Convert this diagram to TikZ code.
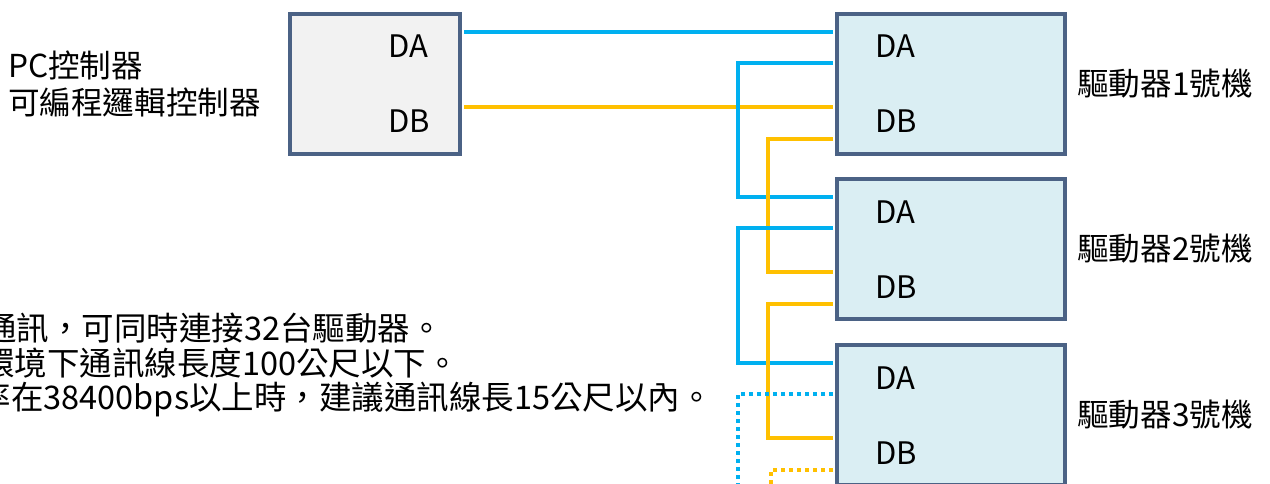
\documentclass[tikz,border=0pt]{standalone}
\usepackage{fontspec}
\setmainfont{Noto Sans CJK TC}
\definecolor{lineblue}{HTML}{00B0F0}
\definecolor{lineyellow}{HTML}{FFC000}
\definecolor{boxborder}{HTML}{4B6285}
\definecolor{drivefill}{HTML}{DAEEF3}
\definecolor{pcfill}{HTML}{F2F2F2}
\begin{document}
\begin{tikzpicture}[x=1pt,y=-1pt,
  box/.style={draw=boxborder, line width=4pt, inner sep=0pt, minimum width=170pt, minimum height=140pt},
  drivebox/.style={box, fill=drivefill, minimum width=228pt},
  pcbox/.style={box, fill=pcfill},
  port/.style={font=\fontsize{31}{31}\selectfont, anchor=base west, inner sep=0pt},
  lbl/.style={font=\fontsize{31.6}{31.6}\selectfont, inner sep=0pt},
  note/.style={font=\fontsize{32.5}{32.5}\selectfont, inner sep=0pt, anchor=base east},
  wa/.style={draw=lineblue, line width=3.5pt},
  wb/.style={draw=lineyellow, line width=3.5pt},
  dotw/.style={dash pattern=on 3.8pt off 4.2pt}]
\useasboundingbox (0,0) rectangle (1270,484);
\clip (0,0) rectangle (1270,484);
\fill[white] (0,0) rectangle (1270,484);
% boxes
\node[pcbox] (pc) at (375,84) {};
\node[drivebox] (d1) at (951,84) {};
\node[drivebox] (d2) at (951,249) {};
\node[drivebox] (d3) at (951,415) {};
% port coordinates
\coordinate (pcA) at ([xshift=2pt,yshift=52pt]pc.east);
\coordinate (pcB) at ([xshift=2pt,yshift=-23pt]pc.east);
\foreach \d in {d1,d2,d3}{
  \coordinate (\d Ain) at ([xshift=-2pt,yshift=52pt]\d.west);
  \coordinate (\d Aout) at ([xshift=-2pt,yshift=21pt]\d.west);
  \coordinate (\d Bin) at ([xshift=-2pt,yshift=-23pt]\d.west);
  \coordinate (\d Bout) at ([xshift=-2pt,yshift=-55pt]\d.west);
}
% wires
\draw[wa] (pcA) -- (d1Ain);
\draw[wb] (pcB) -- (d1Bin);
\draw[wa] (d1Aout) -- ++(-95,0) |- (d2Ain);
\draw[wb] (d1Bout) -- ++(-65,0) |- (d2Bin);
\draw[wa] (d2Aout) -- ++(-95,0) |- (d3Ain);
\draw[wb] (d2Bout) -- ++(-65,0) |- (d3Bin);
\draw[wa,dotw] (d3Aout) -- ++(-95,0) -- ++(0,110);
\draw[wb,dotw] (d3Bout) -- ++(-62,0) -- ++(0,40);
% port labels
\node[port] (pcDA) at (388,58) {DA};
\node[port] (pcDB) at (388,133) {DB};
\node[port] (d1DA) at (875,58) {DA};
\node[port] (d1DB) at (875,133) {DB};
\node[port] (d2DA) at (875,223) {DA};
\node[port] (d2DB) at (875,298) {DB};
\node[port] (d3DA) at (875,389) {DA};
\node[port] (d3DB) at (875,464) {DB};
% drive labels
\node[lbl, anchor=west] (l1) at (1077,84) {驅動器1號機};
\node[lbl, anchor=west] (l2) at (1077,249) {驅動器2號機};
\node[lbl, anchor=west] (l3) at (1077,415) {驅動器3號機};
% PC labels
\node[lbl, anchor=base west] (pcl1) at (8,78) {PC控制器};
\node[lbl, anchor=base west] (pcl2) at (8,115) {可編程邏輯控制器};
% notes
\node[note] (n1) at (443,340) {通訊，可同時連接32台驅動器。};
\node[note] (n2) at (459,375) {環境下通訊線長度100公尺以下。};
\node[note] (n3) at (713,409) {率在38400bps以上時，建議通訊線長15公尺以內。};
\end{tikzpicture}
\end{document}
